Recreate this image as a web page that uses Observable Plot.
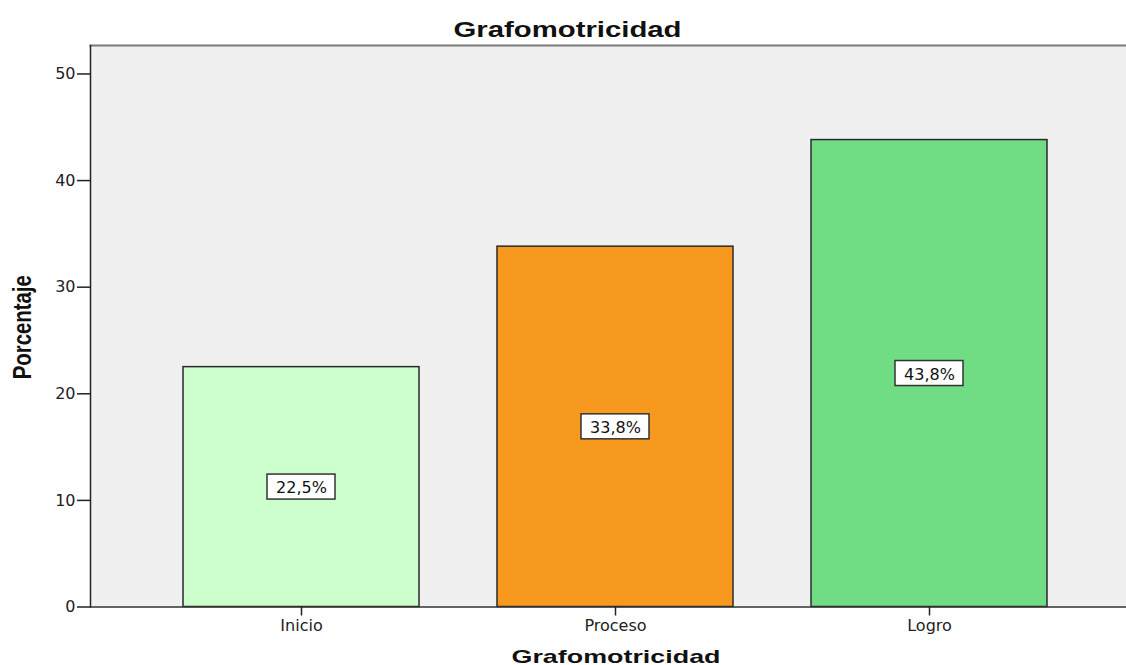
<!DOCTYPE html>
<html>
<head>
<meta charset="utf-8">
<script src="https://cdn.jsdelivr.net/npm/d3@7"></script>
<script src="https://cdn.jsdelivr.net/npm/@observablehq/plot@0.6"></script>
<style>
  html, body { margin: 0; padding: 0; background: #ffffff; }
</style>
</head>
<body>
<div id="chart"></div>
<script>
const categories = ["Inicio", "Proceso", "Logro"];
const values = [22.5, 33.8, 43.8];
const barColors = ["#ccffcc", "#f7991f", "#70dc84"];
const yTicks = [0, 10, 20, 30, 40, 50];
const titleText = "Grafomotricidad";
const xLabelText = "Grafomotricidad";
const yLabelText = "Porcentaje";

const data = categories.map((c, i) => ({
  cat: c,
  value: values[i],
  mid: values[i] / 2,
  label: d3.format(".1f")(values[i]).replace(".", ",") + "%"
}));

const chart = Plot.plot({
  width: 1126,
  height: 665,
  marginLeft: 90,
  marginRight: 0,
  marginTop: 45,
  marginBottom: 58.5,
  style: { background: "#ffffff", fontFamily: "'DejaVu Sans', sans-serif", color: "#222" },
  x: { domain: categories, range: [90, 1139], paddingInner: 0.25, paddingOuter: 0.2925, align: 0.5, axis: null, label: null },
  y: { domain: [0, 52.67], axis: null, label: null },
  color: { domain: categories, range: barColors },
  marks: [
    Plot.frame({ fill: "#f0f0f0", stroke: null }),
    Plot.frame({ anchor: "top", stroke: "#7a7a7a", strokeWidth: 2 }),
    Plot.frame({ anchor: "left", stroke: "#222", strokeWidth: 1.5 }),
    Plot.barY(data, { x: "cat", y: "value", fill: "cat", stroke: "#2a2a2a", strokeWidth: 1.5 }),
    Plot.ruleY([0], { stroke: "#333", strokeWidth: 1.5 }),
    Plot.axisY({ ticks: yTicks, label: null, tickSize: 13, tickPadding: 2, fontSize: 16, stroke: "#222", strokeWidth: 1.5, fill: "#222" }),
    Plot.axisX({ label: null, tickSize: 9, tickPadding: 4, fontSize: 16, stroke: "#222", strokeWidth: 1.5, fill: "#222" }),
    Plot.barY(data, { x: "cat", y1: "mid", y2: "mid", fill: "#ffffff", stroke: "#333", strokeWidth: 1.5,
      insetLeft: 84, insetRight: 84, insetTop: -12.5, insetBottom: -12.5 }),
    Plot.text(data, { x: "cat", y: "mid", text: "label", fontSize: 16, fill: "#111", lineAnchor: "middle", dy: 1 }),
    Plot.text([titleText], { frameAnchor: "top", textAnchor: "middle", dx: -41, dy: -16, lineAnchor: "middle",
      fontSize: 22, fontWeight: "bold", fontFamily: "'Liberation Sans', Arial, sans-serif", fill: "#111" }),
    Plot.text([xLabelText], { frameAnchor: "bottom", textAnchor: "middle", dx: 7.5, dy: 49.5, lineAnchor: "middle",
      fontSize: 19, fontWeight: "bold", fontFamily: "'Liberation Sans', Arial, sans-serif", fill: "#111" }),
    Plot.text([yLabelText], { frameAnchor: "left", textAnchor: "middle", dx: -68, dy: 1, rotate: -90, lineAnchor: "middle",
      fontSize: 25, fontWeight: "bold", fontFamily: "'Liberation Sans Narrow', 'Liberation Sans', Arial, sans-serif", fill: "#111" })
  ]
});

document.getElementById("chart").appendChild(chart);

// Stretch the titles horizontally to match the reference's wide lettering
const titleMatches = [];
chart.querySelectorAll("text").forEach(t => {
  const s = t.textContent;
  if (s === titleText) titleMatches.push(t);
  if (s === yLabelText) {
    t.setAttribute("textLength", 104);
    t.setAttribute("lengthAdjust", "spacingAndGlyphs");
  }
});
if (titleMatches[0]) { titleMatches[0].setAttribute("textLength", 228); titleMatches[0].setAttribute("lengthAdjust", "spacingAndGlyphs"); }
if (titleMatches[1]) { titleMatches[1].setAttribute("textLength", 209); titleMatches[1].setAttribute("lengthAdjust", "spacingAndGlyphs"); }
</script>
</body>
</html>
